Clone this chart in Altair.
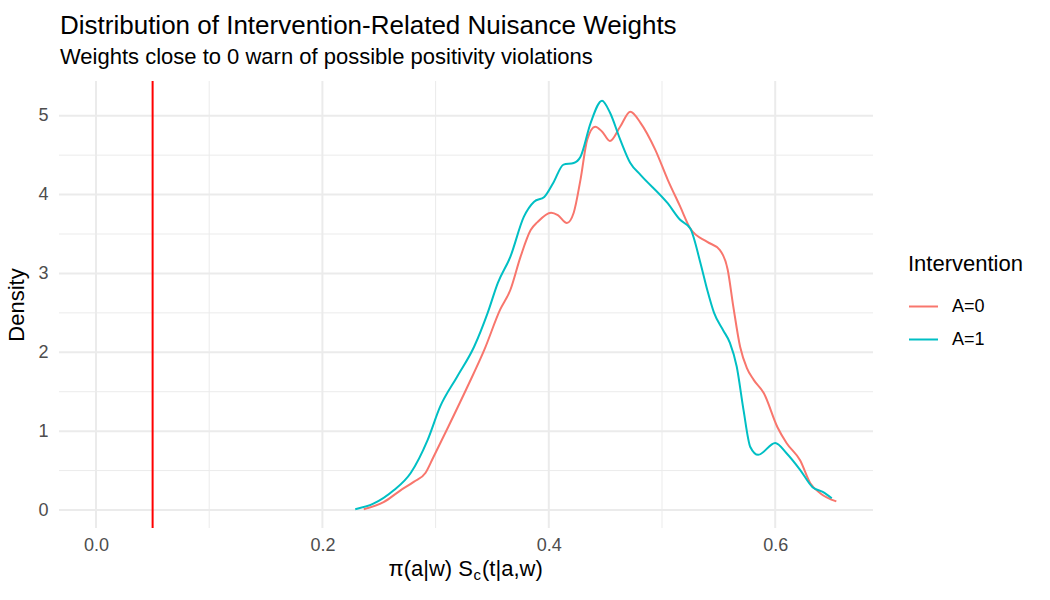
import altair as alt
import pandas as pd

# Kernel density estimates of the weights, one curve per intervention arm
a0_x = [0.2365, 0.254, 0.269, 0.281, 0.291, 0.298, 0.311, 0.328, 0.343, 0.357,
        0.366, 0.375, 0.384, 0.390, 0.402, 0.408, 0.416, 0.422, 0.428, 0.434,
        0.441, 0.447, 0.454, 0.463, 0.472, 0.481, 0.494, 0.505, 0.516, 0.525,
        0.540, 0.551, 0.558, 0.563, 0.569, 0.575, 0.581, 0.590, 0.602, 0.610,
        0.622, 0.631, 0.640, 0.654]
a0_y = [0.01, 0.10, 0.25, 0.36, 0.47, 0.67, 1.05, 1.56, 2.03, 2.54,
        2.79, 3.21, 3.55, 3.65, 3.77, 3.74, 3.64, 3.77, 4.19, 4.70,
        4.86, 4.80, 4.68, 4.86, 5.05, 4.91, 4.57, 4.19, 3.85, 3.57,
        3.40, 3.30, 3.05, 2.58, 2.07, 1.80, 1.65, 1.48, 1.05, 0.85,
        0.63, 0.34, 0.21, 0.11]

a1_x = [0.229, 0.245, 0.263, 0.278, 0.293, 0.304, 0.319, 0.334, 0.346, 0.355,
        0.366, 0.378, 0.387, 0.396, 0.404, 0.413, 0.422, 0.428, 0.437, 0.447,
        0.454, 0.463, 0.472, 0.481, 0.505, 0.516, 0.525, 0.534, 0.540, 0.546,
        0.554, 0.560, 0.566, 0.572, 0.578, 0.585, 0.600, 0.610, 0.622, 0.633,
        0.642, 0.650]
a1_y = [0.01, 0.08, 0.25, 0.47, 0.89, 1.31, 1.69, 2.07, 2.50, 2.88,
        3.21, 3.72, 3.91, 3.97, 4.15, 4.38, 4.40, 4.48, 4.91, 5.19,
        5.04, 4.70, 4.40, 4.25, 3.89, 3.68, 3.57, 3.13, 2.79, 2.50,
        2.28, 2.12, 1.82, 1.27, 0.80, 0.70, 0.85, 0.72, 0.51, 0.29,
        0.23, 0.15]

arms = ["A=0", "A=1"]
arm_colors = ["#F8766D", "#00BFC4"]

# Threshold marker
cutoff = [0.05]

# Axis breaks
x_major = [0.0, 0.2, 0.4, 0.6]
x_minor = [0.1, 0.3, 0.5]
y_major = [0, 1, 2, 3, 4, 5]
y_minor = [0.5, 1.5, 2.5, 3.5, 4.5]

X_DOM = [-0.0327, 0.6864]
Y_DOM = [-0.228, 5.44]

dens = pd.concat([
    pd.DataFrame({"w": a0_x, "density": a0_y, "arm": arms[0]}),
    pd.DataFrame({"w": a1_x, "density": a1_y, "arm": arms[1]}),
])

tfont = "Liberation Sans"
xs = alt.Scale(domain=X_DOM, nice=False, zero=False)
ys = alt.Scale(domain=Y_DOM, nice=False, zero=False)
x_axis = alt.Axis(values=x_major, format=".1f", title=None, grid=False,
                  ticks=False, domain=False, labelFontSize=18,
                  labelColor="#4D4D4D", labelPadding=8, labelFont=tfont)
y_axis = alt.Axis(values=y_major, format="d", title="Density", grid=False,
                  ticks=False, domain=False, labelFontSize=18,
                  labelColor="#4D4D4D", labelPadding=11, labelFont=tfont,
                  titleFontSize=22, titleFontWeight="normal", titleColor="black",
                  titleFont=tfont, titlePadding=9)
GRID = "#EBEBEB"


def vgrid(vals, width):
    return alt.Chart(pd.DataFrame({"v": vals})).mark_rule(
        color=GRID, strokeWidth=width
    ).encode(x=alt.X("v:Q", scale=xs, axis=x_axis))


def hgrid(vals, width):
    return alt.Chart(pd.DataFrame({"v": vals})).mark_rule(
        color=GRID, strokeWidth=width
    ).encode(y=alt.Y("v:Q", scale=ys, axis=y_axis))


grid = alt.layer(
    hgrid(y_minor, 1.0), vgrid(x_minor, 1.0),
    hgrid(y_major, 2.0), vgrid(x_major, 2.0),
)

lines = alt.Chart(dens).mark_line(strokeWidth=2, interpolate="monotone").encode(
    x=alt.X("w:Q", scale=xs, axis=x_axis),
    y=alt.Y("density:Q", scale=ys, axis=y_axis),
    color=alt.Color("arm:N", scale=alt.Scale(domain=arms, range=arm_colors),
                    legend=alt.Legend(title="Intervention", orient="none",
                                      legendX=849, legendY=173,
                                      symbolType="stroke", symbolSize=841,
                                      symbolStrokeWidth=2, rowPadding=8,
                                      labelOffset=13, labelFontSize=18,
                                      labelColor="black", labelFont=tfont,
                                      titleFontSize=22, titleFontWeight="normal",
                                      titleColor="black", titleFont=tfont,
                                      titlePadding=15, padding=0)),
    detail="arm:N",
)

vline = alt.Chart(pd.DataFrame({"v": cutoff})).mark_rule(
    color="#FF0000", strokeWidth=2
).encode(x=alt.X("v:Q", scale=xs, axis=x_axis))

# x-axis title with a subscripted c: π(a|w) S_c(t|a,w)
xt_main = alt.Chart(pd.DataFrame({"t": ["π(a|w) S"]})).mark_text(
    align="right", baseline="alphabetic", fontSize=22, font=tfont, color="black"
).encode(x=alt.value(414), y=alt.value(495), text="t:N")
xt_sub = alt.Chart(pd.DataFrame({"t": ["c"]})).mark_text(
    align="left", baseline="alphabetic", fontSize=15, font=tfont, color="black"
).encode(x=alt.value(414.5), y=alt.value(499), text="t:N")
xt_rest = alt.Chart(pd.DataFrame({"t": ["(t|a,w)"]})).mark_text(
    align="left", baseline="alphabetic", fontSize=22, font=tfont, color="black"
).encode(x=alt.value(423), y=alt.value(495), text="t:N")

chart = alt.layer(grid, lines, vline, xt_main, xt_sub, xt_rest).properties(
    width=814,
    height=447,
    background="white",
    title=alt.TitleParams(
        text="Distribution of Intervention-Related Nuisance Weights",
        subtitle="Weights close to 0 warn of possible positivity violations",
        anchor="start", frame="group", fontSize=26, subtitleFontSize=22,
        fontWeight="normal", font=tfont, subtitleFont=tfont, color="black",
        subtitleColor="black", offset=12, subtitlePadding=8, dx=1,
    ),
    autosize=alt.AutoSizeParams(type="none"),
    padding={"left": 59, "top": 81, "right": 177, "bottom": 72},
).configure_view(stroke=None)

chart.save("out.html", embed_options={"renderer": "svg", "actions": False})
